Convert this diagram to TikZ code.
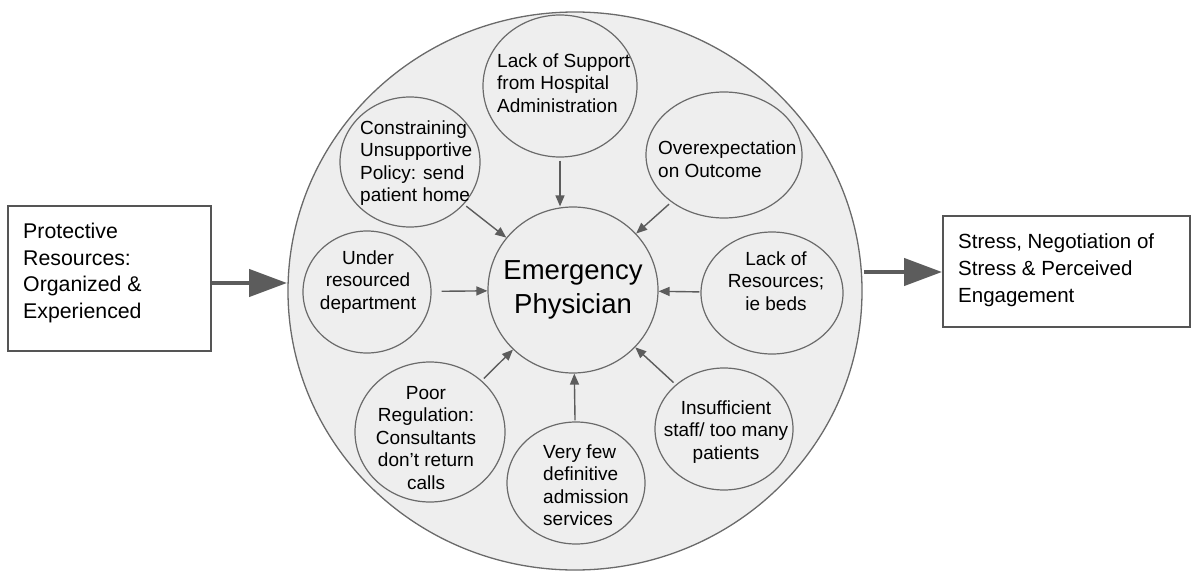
\documentclass[tikz,border=0pt]{standalone}
\usepackage{fontspec}
\setmainfont{Liberation Sans}
\usetikzlibrary{arrows.meta,shapes.geometric}

\definecolor{hubfill}{HTML}{EEEEEE}
\definecolor{rim}{HTML}{6A6A6A}
\definecolor{linkgray}{HTML}{5C5C5C}
\definecolor{boxrim}{HTML}{555555}

\begin{document}
\begin{tikzpicture}[x=1pt,y=-1pt,
  hub/.style={ellipse, draw=rim, fill=hubfill, line width=1.3pt, inner sep=0pt},
  bubble/.style={ellipse, draw=rim, line width=1.2pt, inner sep=0pt},
  smalltext/.style={inner sep=0pt, font=\fontsize{19}{22.5}\selectfont},
  boxtext/.style={inner sep=0pt, align=left, anchor=west},
  framebox/.style={draw=boxrim, line width=2pt, inner sep=0pt},
  link/.style={draw=linkgray, line width=1.4pt, -{Triangle[length=11pt,width=9pt]}},
  bigarrow/.style={draw=linkgray, line width=4.5pt, -{Triangle[length=38pt,width=27pt]}}
]
\useasboundingbox (0,0) rectangle (1196,575);

% outer disc holding all the stress factors
\node[hub, minimum width=574pt, minimum height=558pt] (hub) at (575,291) {};

% centre
\node[bubble, minimum width=170pt, minimum height=166pt] (ep) at (573,290) {};
\node[inner sep=0pt, align=center, font=\fontsize{27.5}{34}\selectfont] (ep-t) at (573,290) {Emergency\\Physician};

% surrounding factors
\node[bubble, minimum width=154pt, minimum height=142pt] (support) at (560,86) {};
\node[smalltext, align=left, anchor=west] (support-t) at (497,83) {Lack of Support\\from Hospital\\Administration};

\node[bubble, minimum width=140pt, minimum height=130pt] (constrain) at (410,162) {};
\node[smalltext, align=left, anchor=west] (constrain-t) at (360,163) {Constraining\\Unsupportive\\Policy: send\\patient home};

\node[bubble, minimum width=156pt, minimum height=126pt] (overexp) at (724,155) {};
\node[smalltext, align=left, anchor=west] (overexp-t) at (658,159) {Overexpectation\\on Outcome};

\node[bubble, minimum width=128pt, minimum height=122pt] (under) at (367,292) {};
\node[smalltext, align=center] (under-t) at (368,282) {Under\\resourced\\department};

\node[bubble, minimum width=142pt, minimum height=122pt] (lackres) at (772,293) {};
\node[smalltext, align=center] (lackres-t) at (776,281) {Lack of\\Resources;\\ie beds};

\node[bubble, minimum width=150pt, minimum height=140pt] (poor) at (430,432) {};
\node[smalltext, align=center] (poor-t) at (426,438) {Poor\\Regulation:\\Consultants\\don't return\\calls};

\node[bubble, minimum width=138pt, minimum height=122pt] (veryfew) at (576,483) {};
\node[smalltext, align=left, anchor=west] (veryfew-t) at (543,485) {Very few\\definitive\\admission\\services};

\node[bubble, minimum width=138pt, minimum height=122pt] (insuff) at (724,429) {};
\node[smalltext, align=center] (insuff-t) at (726,432) {Insufficient\\staff/ too many\\patients};

% influences on the physician
\draw[link, shorten <=3pt] (support.south) -- (support.south |- ep.north);
\draw[link, shorten <=3pt] (constrain) -- (ep);
\draw[link, shorten <=3pt] (overexp) -- (ep);
\draw[link, shorten <=10pt] (under) -- (ep);
\draw[link, shorten <=1pt] (lackres) -- (ep);
\draw[link, shorten <=3pt] (poor) -- (ep);
\draw[link, shorten <=1pt] (veryfew) -- (ep);
\draw[link, shorten <=3pt] (insuff) -- (ep);

% input and outcome boxes
\node[framebox, minimum width=203pt, minimum height=145pt] (prot) at (109.5,278.5) {};
\node[boxtext, font=\fontsize{21.3}{26.5}\selectfont] (prot-t) at (23,273) {Protective\\Resources:\\Organized \&\\Experienced};

\node[framebox, minimum width=247pt, minimum height=111pt] (stress) at (1066.5,271.5) {};
\node[boxtext, font=\fontsize{20.5}{27}\selectfont] (stress-t) at (958,270) {Stress, Negotiation of\\Stress \& Perceived\\Engagement};

\coordinate (inL) at (287,283);
\coordinate (outR) at (864,272);
\draw[bigarrow] (prot.east |- inL) -- (inL);
\draw[bigarrow] (outR) -- (outR -| stress.west);
\end{tikzpicture}
\end{document}
